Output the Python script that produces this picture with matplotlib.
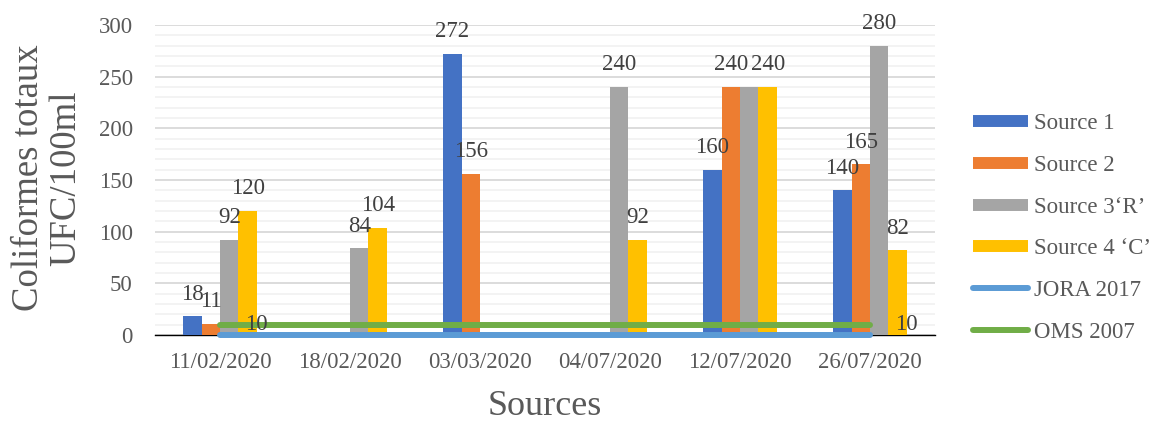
import numpy as np
import matplotlib
matplotlib.use("Agg")
import matplotlib.pyplot as plt
from matplotlib.lines import Line2D
from matplotlib.ticker import MultipleLocator

plt.rcParams['font.family'] = ['Liberation Serif', 'DejaVu Serif']

dates = ["11/02/2020", "18/02/2020", "03/03/2020", "04/07/2020", "12/07/2020", "26/07/2020"]
source1 = [18, np.nan, 272, np.nan, 160, 140]
source2 = [11, np.nan, 156, np.nan, 240, 165]
source3 = [92, 84, np.nan, 240, 240, 280]
source4 = [120, 104, np.nan, 92, 240, 82]
jora_2017 = [0, 0, 0, 0, 0, 0]
oms_2007 = [10, 10, 10, 10, 10, 10]

bar_series = [
    ("Source 1", source1, "#4472C4"),
    ("Source 2", source2, "#ED7D31"),
    ("Source 3\u2018R\u2019", source3, "#A5A5A5"),
    ("Source 4 \u2018C\u2019", source4, "#FFC000"),
]
line_series = [
    ("JORA 2017", jora_2017, "#5B9BD5"),
    ("OMS 2007", oms_2007, "#70AD47"),
]
# (series index, category index) of value labels left out where they would collide
hidden_labels = {(2, 4)}

fig = plt.figure(figsize=(11.58, 4.21), dpi=100)
ax = fig.add_axes([155 / 1158, 1 - 335 / 421, 780 / 1158, 310 / 421])

x = np.arange(len(dates))
width = 0.142
offsets = (np.arange(len(bar_series)) - (len(bar_series) - 1) / 2) * width

for si, (name, vals, color) in enumerate(bar_series):
    vals = np.array(vals, dtype=float)
    ax.bar(x + offsets[si], vals, width=width, color=color, zorder=2)
    for ci, v in enumerate(vals):
        if np.isnan(v) or (si, ci) in hidden_labels:
            continue
        ax.annotate(f"{v:g}", (x[ci] + offsets[si], v), xytext=(0, 12),
                    textcoords="offset points", ha="center", va="baseline",
                    fontsize=16.5, color="#404040", zorder=5)

for name, vals, color in line_series:
    ax.plot(x, vals, color=color, lw=4.3, solid_capstyle="round", zorder=3, clip_on=False)

# OMS threshold labelled at both ends
for ci in (0, len(dates) - 1):
    ax.annotate(f"{oms_2007[ci]:g}", (x[ci], oms_2007[ci]), xytext=(18, 0),
                textcoords="offset points", ha="left", va="center",
                fontsize=16.5, color="#404040", zorder=5)

ax.set_xlim(-0.5, len(dates) - 0.5)
ax.set_ylim(0, 300)
ax.yaxis.set_major_locator(MultipleLocator(50))
ax.yaxis.set_minor_locator(MultipleLocator(10))
ax.grid(axis="y", which="major", color="#D9D9D9", lw=1.3, zorder=0)
ax.grid(axis="y", which="minor", color="#F2F2F2", lw=1.3, zorder=0)
ax.set_axisbelow(True)
for side in ("top", "right", "left"):
    ax.spines[side].set_visible(False)
ax.spines["bottom"].set_color("black")
ax.spines["bottom"].set_linewidth(1.0)
ax.spines["bottom"].set_zorder(1)

ax.set_xticks(x)
ax.set_xticklabels(dates)
ax.tick_params(axis="x", length=0, pad=12, labelsize=16.5, labelcolor="#595959")
ax.tick_params(axis="y", which="both", length=0, pad=16, labelsize=16.5, labelcolor="#595959")

fig.text(47 / 1158, 1 - 178 / 421, "Coliformes totaux\nUFC/100ml", rotation=90,
         ha="center", va="center", fontsize=26.5, color="#595959", linespacing=1.1,
         multialignment="center")
fig.text(545 / 1158, 1 - 415 / 421, "Sources", ha="center", va="baseline",
         fontsize=26, color="#595959")

handles = [Line2D([], [], color=c, lw=8.6, solid_capstyle="butt") for _, _, c in bar_series]
handles += [Line2D([], [], color=c, lw=4.3, solid_capstyle="round") for _, _, c in line_series]
labels = [n for n, _, _ in bar_series] + [n for n, _, _ in line_series]
leg = fig.legend(handles, labels, loc="center left", bbox_to_anchor=(973 / 1158, 1 - 228 / 421),
                 frameon=False, fontsize=16.5, handlelength=2.4, handletextpad=0.25,
                 labelspacing=0.9, borderaxespad=0, borderpad=0)
for t in leg.get_texts():
    t.set_color("#595959")

fig.savefig("out.png", dpi=100)
